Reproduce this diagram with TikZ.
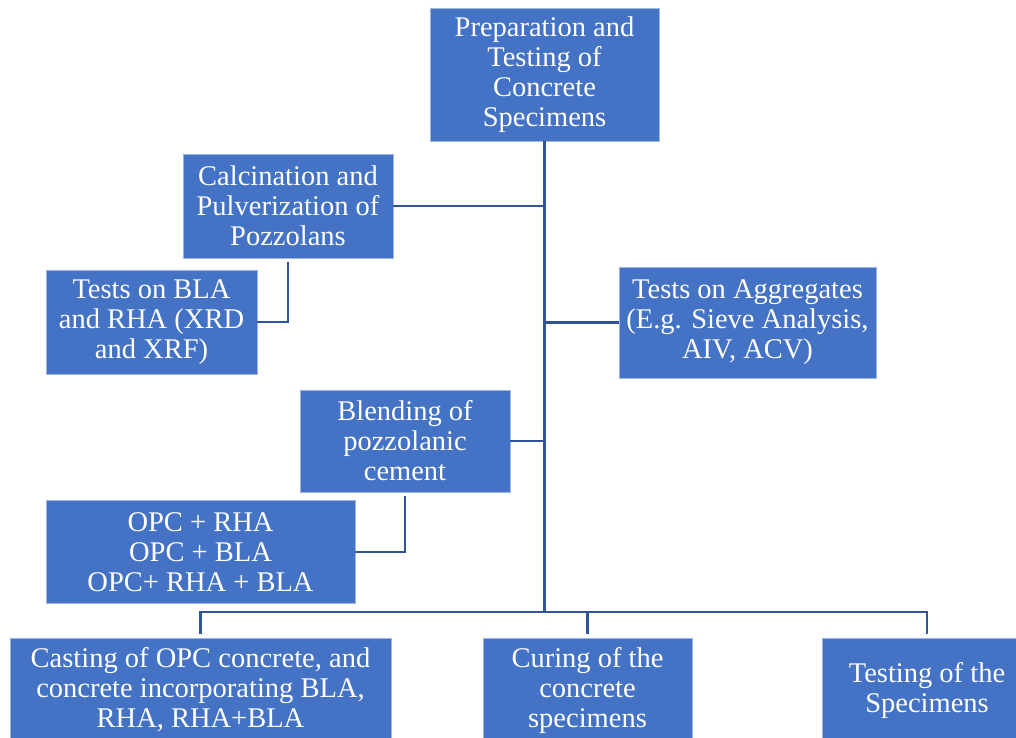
\documentclass[tikz,border=0pt]{standalone}
\usepackage{fontspec}
\setmainfont{Liberation Serif}

\definecolor{boxblue}{HTML}{4472C4}
\definecolor{linkblue}{HTML}{2F5597}
\definecolor{rimblue}{HTML}{9DB5E0}

\tikzset{
  stagebox/.style={draw=rimblue, line width=0.6pt, fill=boxblue, text=white,
    align=center, inner sep=0pt, font=\fontsize{28.5}{30}\selectfont},
  link/.style={draw=linkblue, line width=2.2pt}
}

\begin{document}
\begin{tikzpicture}[x=1pt,y=-1pt]
% Page frame, boxes at the bottom and right run off the edge
\useasboundingbox (0,0) rectangle (1016,737);
\clip (0,0) rectangle (1016,737);

% Top box
\node[stagebox, minimum width=229pt, minimum height=133pt] (top) at (544.5,74.5)
  {Preparation and\\Testing of\\Concrete\\Specimens};

% Left branch - pozzolans
\node[stagebox, minimum width=210pt, minimum height=104pt] (calc) at (288,206)
  {Calcination and\\Pulverization of\\Pozzolans};
\node[stagebox, minimum width=211pt, minimum height=104pt] (bla) at (151.5,322)
  {Tests on BLA\\and RHA (XRD\\and XRF)};

% Right branch - aggregates
\node[stagebox, minimum width=257pt, minimum height=111pt] (aggr) at (747.5,322.5)
  {Tests on Aggregates\\(E.g. Sieve Analysis,\\AIV, ACV)};

% Left branch - blending
\node[stagebox, minimum width=210pt, minimum height=102pt] (blend) at (405,441)
  {Blending of\\pozzolanic\\cement};
\node[stagebox, minimum width=309pt, minimum height=103pt] (opc) at (200.5,552)
  {OPC + RHA\\OPC + BLA\\OPC+ RHA + BLA};

% Bottom row
\node[stagebox, minimum width=381pt, minimum height=104pt] (cast) at (200.5,690)
  {Casting of OPC concrete, and\\concrete incorporating BLA,\\RHA, RHA+BLA};
\node[stagebox, minimum width=209pt, minimum height=104pt] (cure) at (587.5,690)
  {Curing of the\\concrete\\specimens};
\node[stagebox, minimum width=210pt, minimum height=104pt] (testg) at (927,690)
  {Testing of the\\Specimens};

% Trunk and bar
\coordinate (bar) at (544.5,612);
\draw[link] (top.south) -- (bar);
\draw[link, line cap=rect] (cast.north |- bar) -- (testg.north |- bar);
\foreach \b in {cast,cure,testg}
  \draw[link, shorten >=4pt] (\b.north |- bar) -- (\b.north);

% Side links to the trunk
\draw[link] (calc.east) -- (calc.east -| top.south);
\draw[link] (aggr.west) -- (aggr.west -| top.south);
\draw[link] (blend.east) -- (blend.east -| top.south);

% Sub links
\draw[link, shorten <=4pt] (calc.south) |- (bla.east);
\draw[link, shorten <=4pt] (blend.south) |- (opc.east);
\end{tikzpicture}
\end{document}
